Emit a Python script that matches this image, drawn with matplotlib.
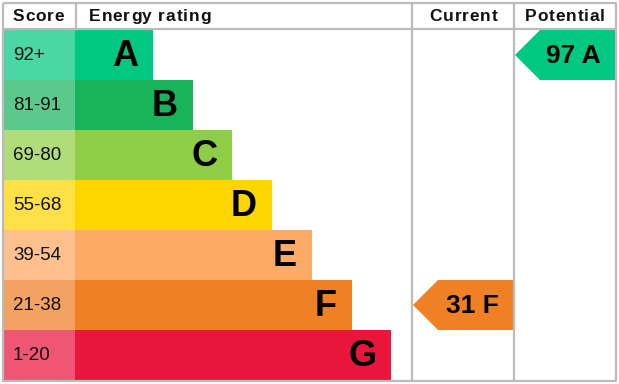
import matplotlib
matplotlib.use("Agg")
import matplotlib.pyplot as plt
from matplotlib.patches import Rectangle, Polygon
from matplotlib.font_manager import findfont, FontProperties
from matplotlib.ft2font import FT2Font

# ---- data ----
bands = ["A", "B", "C", "D", "E", "F", "G"]
score_labels = ["92+", "81-91", "69-80", "55-68", "39-54", "21-38", "1-20"]
band_lower = [92, 81, 69, 55, 39, 21, 1]
bar_colors = ["#00c781", "#19b459", "#8dce46", "#ffd500", "#fcaa65", "#ef8023", "#e9153b"]
score_colors = ["#4bd6a5", "#5bc98b", "#b0dc7a", "#ffe046", "#fec18e", "#f3a263", "#ef5674"]
headers = ["Score", "Energy rating", "Current", "Potential"]
current_score = 31
potential_score = 97

def band_of(score):
    for i, lo in enumerate(band_lower):
        if score >= lo:
            return i
    return len(bands) - 1

# ---- layout ----
W, H = 619, 384
DPI = 100
plt.rcParams["font.family"] = ["Liberation Sans", "DejaVu Sans"]
fig = plt.figure(figsize=(W / DPI, H / DPI), dpi=DPI)
ax = fig.add_axes([0, 0, 1, 1])
ax.set_xlim(0, W)
ax.set_ylim(H, 0)
ax.axis("off")

left, right, top, bottom = 3, 616, 3, 381
header_bottom = 29
row_h = 50
score_right = 75
col_cur = 412
col_pot = 514
bar_start_len = 78
bar_step = 39.7
grey = "#bbbbbb"

for i, (b, sl) in enumerate(zip(bands, score_labels)):
    y0 = 30 + i * row_h
    ax.add_patch(Rectangle((left + 1, y0), score_right - left - 1, row_h,
                           facecolor=score_colors[i], edgecolor="none"))
    x1 = score_right + bar_start_len + i * bar_step
    ax.add_patch(Rectangle((score_right, y0), x1 - score_right, row_h,
                           facecolor=bar_colors[i], edgecolor="none"))
    ax.text(13, y0 + row_h / 2 + 1, sl, fontsize=13.5, ha="left", va="center",
            color="#111111")
    ax.text(x1 - 15, y0 + row_h / 2 + 1, b, fontsize=26, fontweight="bold",
            ha="right", va="center", color="black")

def arrow(score, x0, x1):
    i = band_of(score)
    y0 = 30 + i * row_h
    y1 = y0 + row_h
    ym = (y0 + y1) / 2
    pts = [(x0, ym), (x0 + 25, y0), (x1, y0), (x1, y1), (x0 + 25, y1)]
    ax.add_patch(Polygon(pts, closed=True, facecolor=bar_colors[i], edgecolor="none"))
    ax.text(x1 - 14, ym + 1, f"{score} {bands[i]}", fontsize=19, fontweight="bold",
            ha="right", va="center", color="black")

arrow(current_score, col_cur + 1, col_pot - 1)
arrow(potential_score, col_pot + 1, right - 1)

# grid lines
lw = 1.6
ax.plot([left, right, right, left, left], [top, top, bottom, bottom, top],
        color=grey, lw=lw, solid_capstyle="butt")
ax.plot([left, right], [header_bottom, header_bottom], color=grey, lw=lw)
ax.plot([score_right + 1, score_right + 1], [top, header_bottom], color=grey, lw=lw)
ax.plot([col_cur, col_cur], [top, bottom], color=grey, lw=lw)
ax.plot([col_pot, col_pot], [top, bottom], color=grey, lw=lw)

# headers with letter spacing
hfs = 12.5
spacing = 0.8
try:
    _font = FT2Font(findfont(FontProperties(family="Liberation Sans", weight="bold")))
    _font.set_size(hfs, DPI)
    def advances(s):
        return [_font.load_char(ord(c)).linearHoriAdvance / 65536.0 for c in s]
    advances("A")
except Exception:
    def advances(s):
        return [hfs * DPI / 72 * 0.6 for c in s]

def spaced_text(x, y, s, ha="left"):
    adv = advances(s)
    total = sum(adv) + spacing * (len(s) - 1)
    if ha == "center":
        x = x - total / 2
    cx = x
    for c, a in zip(s, adv):
        if c != " ":
            ax.text(cx, y, c, fontsize=hfs, fontweight="bold", ha="left", va="center",
                    color="#111111")
        cx += a + spacing

hy = 16.5
spaced_text(13, hy, headers[0])
spaced_text(89, hy, headers[1])
spaced_text((col_cur + col_pot) / 2 + 0.5, hy, headers[2], ha="center")
spaced_text((col_pot + right) / 2, hy, headers[3], ha="center")

fig.savefig("out.png", dpi=DPI)
